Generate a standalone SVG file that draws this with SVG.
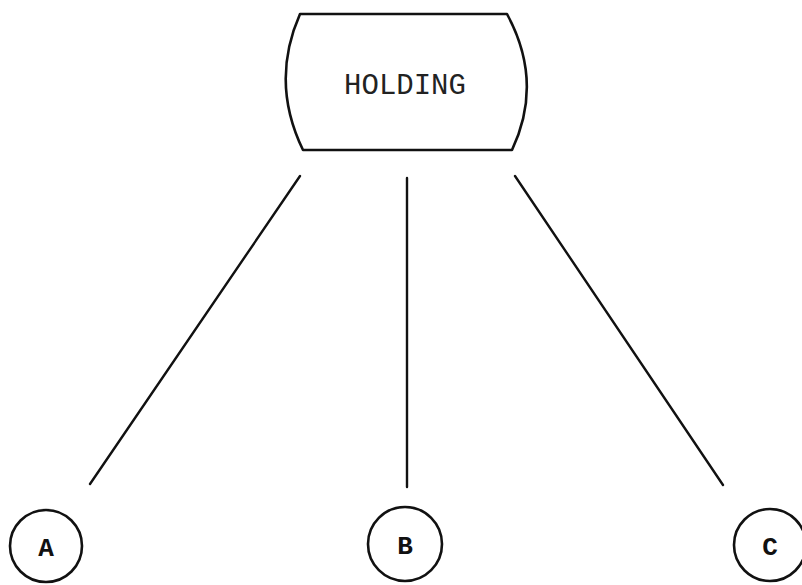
<svg xmlns="http://www.w3.org/2000/svg" width="802" height="585" viewBox="0 0 802 585">
  <style>
    .shape { fill: none; stroke: #111; stroke-width: 2.6; stroke-linejoin: round; }
    .wire { stroke: #111; stroke-width: 2.4; stroke-linecap: round; fill: none; }
    .title { font-family: "Liberation Mono", "DejaVu Sans Mono", monospace; font-size: 29px; fill: #222; }
    .leaf { font-family: "Liberation Mono", "DejaVu Sans Mono", monospace; font-size: 26px; font-weight: bold; fill: #111; }
  </style>
  <rect width="802" height="585" fill="#fff"/>

  <!-- links from the holding node to the three members -->
  <g id="connectors">
    <line class="wire" x1="300" y1="176" x2="90" y2="484"/>
    <line class="wire" x1="407" y1="178" x2="407" y2="487"/>
    <line class="wire" x1="515" y1="176" x2="723" y2="485"/>
  </g>

  <g id="holding">
    <path class="shape" d="M300,14 L507,14 Q544,82 512,150 L303,150 Q270,82 300,14 Z"/>
    <text class="title" x="405" y="94" text-anchor="middle">HOLDING</text>
  </g>

  <g id="node-a">
    <circle class="shape" cx="46" cy="546" r="36"/>
    <text class="leaf" x="46" y="556" text-anchor="middle">A</text>
  </g>

  <g id="node-b">
    <circle class="shape" cx="405" cy="544" r="37"/>
    <text class="leaf" x="405" y="554" text-anchor="middle">B</text>
  </g>

  <g id="node-c">
    <circle class="shape" cx="770" cy="545" r="36"/>
    <text class="leaf" x="770" y="555" text-anchor="middle">C</text>
  </g>
</svg>
